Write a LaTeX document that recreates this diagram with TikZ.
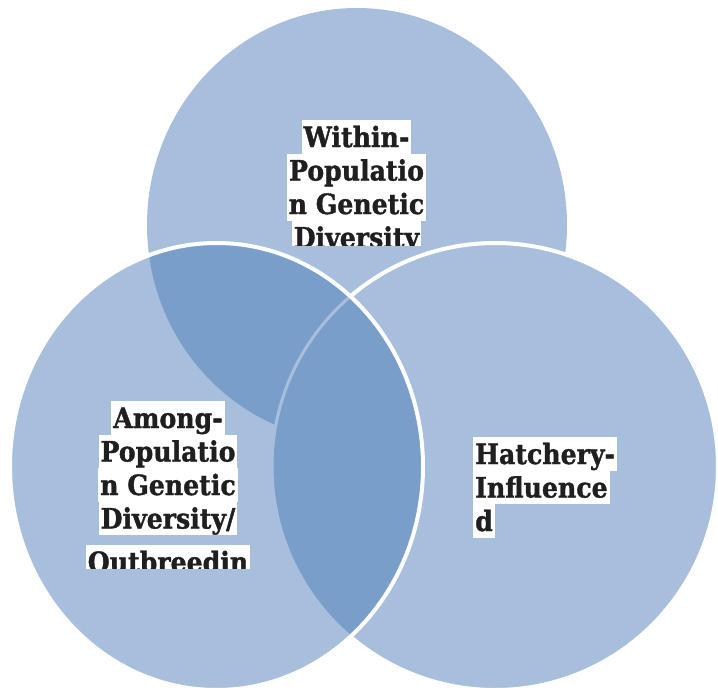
\documentclass[tikz,border=0pt]{standalone}
\usepackage{fontspec}
\newfontfamily\vennfont[FakeStretch=0.9,FakeBold=1.2]{DejaVu Serif}
\usetikzlibrary{positioning}
\definecolor{vlight}{HTML}{A7BFDD}
\definecolor{vdark}{HTML}{7A9ECA}

\begin{document}
\begin{tikzpicture}[x=1pt,y=-1pt,line join=round,line cap=round,
  rT/.style={x radius=210,y radius=217},
  rL/.style={x radius=206.5,y radius=223.5},
  rR/.style={x radius=223,y radius=223.5},
  rim/.style={draw=white,line width=4pt},
  lbl/.style={font=\vennfont\bfseries\fontsize{28}{33.5}\selectfont,fill=white,text=black!88,
    inner xsep=2pt,inner ysep=0pt,text height=27pt,text depth=6.5pt}]
\useasboundingbox (0,0) rectangle (718,691);
\coordinate (T) at (357,225);
\coordinate (L) at (216.5,466.5);
\coordinate (R) at (495,466.5);
\fill[vlight] (T) ellipse[rT];
\path[fill=vlight,rim] (R) ellipse[rR];
\fill[vlight] (L) ellipse[rL];
\begin{scope}
\clip (L) ellipse[rL];
\fill[vdark] (T) ellipse[rT];
\fill[vdark] (R) ellipse[rR];
\draw[vlight,line width=3pt] (R) ellipse[rR];
\end{scope}
\draw[rim] (L) ellipse[rL];
\begin{scope}
\clip (0,0) rectangle (718,245);
\foreach \t/\y [count=\k] in {Within-/147,Populatio/180.5,n Genetic/214,Diversity/247.5}
  \node[lbl,anchor=base] (top\k) at (356.5,\y) {\t};
\end{scope}
\begin{scope}
\clip (0,0) rectangle (718,568);
\foreach \t/\y [count=\k] in {Among-/428,Populatio/461.5,n Genetic/495,{Diversity/}/528.5,Outbreedin/572}
  \node[lbl,anchor=base] (left\k) at (168,\y) {\t};
\end{scope}
\foreach \t/\y [count=\k] in {Hatchery-/464,Influence/497.5,d/531}
  \node[lbl,anchor=base west] (right\k) at (473,\y) {\t};
\end{tikzpicture}
\end{document}
